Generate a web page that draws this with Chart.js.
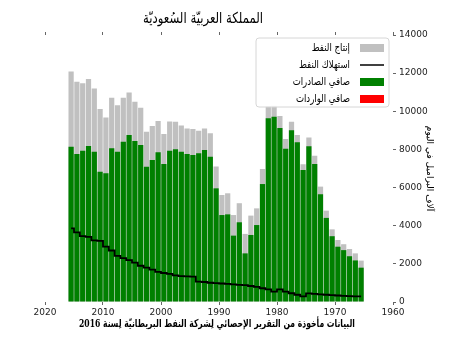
<!DOCTYPE html>
<html>
<head>
<meta charset="utf-8">
<script src="https://cdn.jsdelivr.net/npm/chart.js@4/dist/chart.umd.min.js"></script>
<style>
  html, body { margin: 0; padding: 0; background: #fff; }
  #wrap { width: 450px; height: 338px; }
</style>
</head>
<body>
<div id="wrap"><canvas id="oil"></canvas></div>
<script>
// Saudi Arabia, thousand barrels per day
const years = [
  1965, 1966, 1967, 1968, 1969, 1970, 1971, 1972, 1973, 1974,
  1975, 1976, 1977, 1978, 1979, 1980, 1981, 1982, 1983, 1984,
  1985, 1986, 1987, 1988, 1989, 1990, 1991, 1992, 1993, 1994,
  1995, 1996, 1997, 1998, 1999, 2000, 2001, 2002, 2003, 2004,
  2005, 2006, 2007, 2008, 2009, 2010, 2011, 2012, 2013, 2014,
  2015
];

const production = [
  2170, 2550, 2780, 3030, 3250, 3810, 4790, 6050, 7670, 8620,
  7220, 8760, 9450, 8550, 9750, 10290, 10260, 6980, 4910, 4530,
  3570, 5180, 4560, 5700, 5610, 7100, 8850, 9100, 8980, 9070,
  9100, 9250, 9450, 9460, 8810, 9490, 9230, 8930, 10190, 10500,
  10980, 10710, 10310, 10710, 9680, 10120, 11200, 11690, 11470, 11550,
  12080
];

const consumption = [
  290, 300, 310, 320, 340, 360, 380, 400, 430, 450,
  300, 380, 460, 540, 660, 540, 660, 720, 790, 840,
  880, 900, 920, 950, 970, 990, 1010, 1050, 1070, 1330,
  1340, 1360, 1400, 1470, 1520, 1580, 1700, 1800, 1900, 2060,
  2200, 2300, 2420, 2700, 2900, 3200, 3230, 3420, 3450, 3650,
  3860
];

const netExports = [
  1800, 2180, 2400, 2720, 2900, 3450, 4410, 5650, 7240, 8170,
  6920, 8380, 9000, 8030, 9120, 9715, 9630, 6185, 4035, 3515,
  2550, 4180, 3480, 4595, 4560, 5960, 7620, 7970, 7795, 7705,
  7760, 7880, 8005, 7930, 7235, 7850, 7445, 7090, 8230, 8440,
  8755, 8400, 7880, 8060, 6750, 6830, 7880, 8180, 7930, 7760,
  8145
];

// no net imports for Saudi Arabia, only kept for the legend
const netImports = [];

const yTicks = [0, 2000, 4000, 6000, 8000, 10000, 12000, 14000];

const titleText = 'المملكة العربيّة السُعوديّة';
const noteText = 'البيانات مأخوذة من التقرير الإحصائي لِشركة النفط البريطانيّة لِسنة 2016';
const yTitle = 'آلاف البراميل في اليوم';

// each year's bar covers [year, year+1]
const points = (vals) => vals.map((v, i) => ({ x: years[i] + 0.5, y: v }));

const tickFont = { family: '"DejaVu Sans", sans-serif', size: 9 };

// draw text squeezed to a given width (the reference uses a narrow naskh face)
function squeezed(ctx, text, x, y, ratio) {
  const w = ctx.measureText(text).width;
  ctx.fillText(text, x, y, w * ratio);
}

// title, footnote and the boxed legend (swatch on the right, rtl)
const textPlugin = {
  id: 'texts',
  afterDraw(chart) {
    const ctx = chart.ctx;
    const area = chart.chartArea;
    ctx.save();
    ctx.fillStyle = '#000';
    ctx.direction = 'rtl';
    ctx.textBaseline = 'middle';
    ctx.textAlign = 'center';
    ctx.font = '15px "DejaVu Serif", "DejaVu Sans"';
    ctx.fillText(titleText, 203, 19, 120);
    ctx.font = 'bold 11px "DejaVu Serif", "DejaVu Sans"';
    ctx.fillText(noteText, 217, 324, 276);

    // legend
    const bx = area.right - 137, by = area.top + 3, bw = 133, bh = 69;
    ctx.beginPath();
    ctx.roundRect(bx, by, bw, bh, 3);
    ctx.fillStyle = 'rgba(255,255,255,0.85)';
    ctx.fill();
    ctx.strokeStyle = '#d6d6d6';
    ctx.lineWidth = 1;
    ctx.stroke();

    ctx.font = '11px "DejaVu Serif", "DejaVu Sans"';
    ctx.textAlign = 'right';
    chart.data.datasets.forEach((ds, i) => {
      const cy = by + 10 + i * 17;
      const sx = bx + bw - 29;
      if (ds.type === 'line') {
        ctx.strokeStyle = ds.borderColor;
        ctx.lineWidth = 1.5;
        ctx.beginPath();
        ctx.moveTo(sx, cy);
        ctx.lineTo(sx + 24, cy);
        ctx.stroke();
      } else {
        ctx.fillStyle = ds.backgroundColor;
        ctx.fillRect(sx, cy - 4, 24, 8);
      }
      ctx.fillStyle = '#000';
      squeezed(ctx, ds.label, sx - 10, cy, 0.78);
    });
    ctx.restore();
  }
};

const oilData = {
  datasets: [{
    type: 'bar',
    label: 'إنتاج النفط',
    data: points(production),
    backgroundColor: '#c0c0c0',
    grouped: false,
    barPercentage: 0.9,
    categoryPercentage: 1,
    order: 3
  }, {
    type: 'line',
    label: 'استهلاك النفط',
    data: points(consumption),
    borderColor: '#000',
    borderWidth: 1.8,
    pointRadius: 0,
    stepped: 'middle',
    order: 1
  }, {
    type: 'bar',
    label: 'صافي الصادرات',
    data: points(netExports),
    backgroundColor: '#008000',
    grouped: false,
    barPercentage: 0.9,
    categoryPercentage: 1,
    order: 2
  }, {
    type: 'bar',
    label: 'صافي الواردات',
    data: points(netImports),
    backgroundColor: '#ff0000',
    grouped: false,
    order: 2
  }]
};

const oilConfig = {
  type: 'bar',
  data: oilData,
  plugins: [textPlugin],
  options: {
    responsive: true,
    maintainAspectRatio: false,
    animation: false,
    devicePixelRatio: 1,
    layout: {
      padding: { top: 32, left: 45, right: 0, bottom: 0 }
    },
    plugins: {
      legend: { display: false },
      tooltip: { enabled: false }
    },
    scales: {
      x: {
        type: 'linear',
        position: 'bottom',
        reverse: true,
        offset: false,
        min: 1960,
        max: 2020,
        ticks: {
          stepSize: 10,
          color: '#222',
          font: tickFont,
          padding: 2,
          maxRotation: 0,
          callback: (v) => String(v)
        },
        grid: { drawOnChartArea: false, offset: false, tickLength: 3, color: '#666' },
        border: { display: false },
        afterFit: (s) => { s.height = 36; }
      },
      x2: {
        type: 'linear',
        position: 'top',
        reverse: true,
        offset: false,
        min: 1960,
        max: 2020,
        ticks: { display: false, stepSize: 10 },
        grid: { drawOnChartArea: false, offset: false, tickLength: 3, color: '#666' },
        border: { display: false },
        afterFit: (s) => { s.height = 3; }
      },
      y: {
        position: 'right',
        min: 0,
        max: 14000,
        afterBuildTicks: (s) => { s.ticks = yTicks.map((v) => ({ value: v })); },
        ticks: {
          color: '#222',
          font: tickFont,
          padding: 3,
          callback: (v) => String(v)
        },
        grid: { drawOnChartArea: false, tickLength: 3, color: '#666' },
        border: { display: false },
        title: {
          display: true,
          text: yTitle,
          color: '#000',
          font: { family: '"DejaVu Serif", "DejaVu Sans"', size: 9 },
          padding: { top: 15, bottom: 0 }
        },
        afterFit: (s) => { s.width = 57; }
      }
    }
  }
};

const oilChart = new Chart(document.getElementById('oil'), oilConfig);
</script>
</body>
</html>
